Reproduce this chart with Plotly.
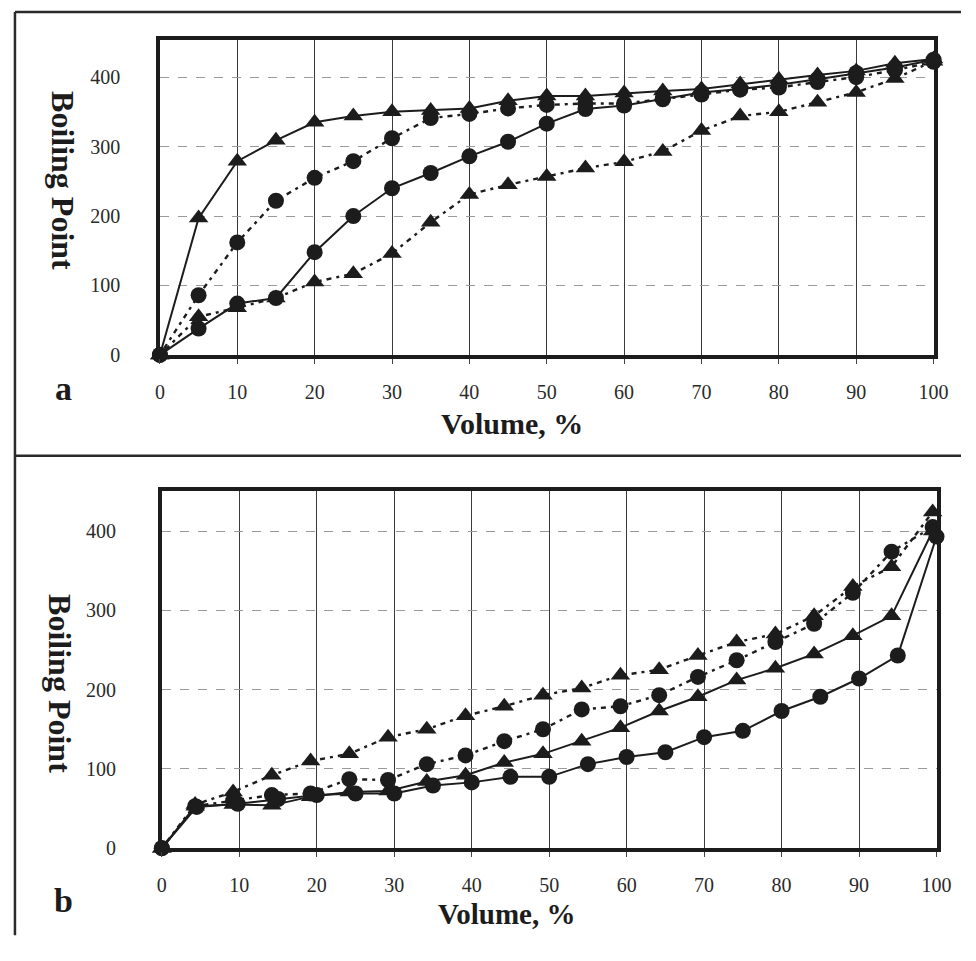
import plotly.graph_objects as go

# ---------------- Data ----------------
x_a = [0, 5, 10, 15, 20, 25, 30, 35, 40, 45, 50, 55, 60, 65, 70, 75, 80, 85, 90, 95, 100]

a_tri_solid = [0, 197, 279, 309, 335, 344, 350, 352, 355, 366, 373, 373, 377, 380, 383, 390, 397, 403, 409, 420, 426]
a_circ_solid = [0, 38, 74, 82, 148, 200, 240, 262, 286, 307, 333, 354, 359, 369, 378, 383, 389, 397, 406, 414, 425]
a_circ_dot = [0, 86, 162, 222, 255, 279, 312, 341, 347, 355, 360, 362, 362, 368, 375, 382, 385, 393, 400, 410, 422]
a_tri_dot = [0, 55, 68, 82, 105, 117, 146, 191, 231, 245, 257, 269, 278, 293, 323, 344, 350, 364, 378, 398, 423]

x_b = [0, 4.5, 9.8, 15, 20, 25, 30, 35, 40, 45, 50, 55, 60, 65, 70, 75, 80, 85, 90, 95, 100]
x_b_shift = [0, 4.3, 9.2, 14.2, 19.2, 24.2, 29.2, 34.2, 39.2, 44.2, 49.2, 54.2, 59.2, 64.2, 69.2, 74.2, 79.2, 84.2, 89.2, 94.2, 99.5]

b_circ_solid = [0, 52, 56, 62, 67, 69, 69, 79, 83, 90, 90, 106, 115, 121, 140, 148, 173, 191, 214, 243, 393]
b_tri_solid = [0, 53, 55, 54, 65, 71, 72, 84, 92, 108, 119, 135, 152, 173, 191, 212, 227, 245, 268, 293, 400]
b_tri_dot = [0, 55, 71, 92, 110, 119, 140, 150, 167, 179, 193, 202, 218, 225, 243, 260, 270, 293, 330, 355, 424]
b_circ_dot = [0, 53, 60, 67, 69, 87, 86, 106, 117, 135, 150, 175, 179, 193, 216, 237, 260, 283, 322, 374, 405]

x_ticks = [0, 10, 20, 30, 40, 50, 60, 70, 80, 90, 100]
y_ticks = [0, 100, 200, 300, 400]

# page body has an 8px margin; compensate so the figure lands where the reference is
OFF = 8
W, H = 976 - OFF, 961 - OFF
INK = "#1c1c1c"
SERIF = "Liberation Serif, Times New Roman, serif"
DOT = "3px,5px,5px,5px"


def px(x):
    return (x - OFF) / W


def py(y):
    return 1 - (y - OFF) / H


fig = go.Figure()


def add_series(x, y, sym, dash, xa, ya):
    fig.add_trace(go.Scatter(
        x=x, y=y, mode="lines+markers", xaxis=xa, yaxis=ya,
        line=dict(color=INK, width=2.4 if dash != "solid" else 2.0, dash=dash),
        marker=dict(symbol=sym, size=16 if sym == "circle" else 17, color=INK),
        cliponaxis=False, showlegend=False))


add_series(x_a, a_tri_dot, "triangle-up", DOT, "x", "y")
add_series(x_a, a_circ_dot, "circle", DOT, "x", "y")
add_series(x_a, a_circ_solid, "circle", "solid", "x", "y")
add_series(x_a, a_tri_solid, "triangle-up", "solid", "x", "y")

add_series(x_b_shift, b_tri_dot, "triangle-up", DOT, "x2", "y2")
add_series(x_b_shift, b_circ_dot, "circle", DOT, "x2", "y2")
add_series(x_b_shift, b_tri_solid, "triangle-up", "solid", "x2", "y2")
add_series(x_b, b_circ_solid, "circle", "solid", "x2", "y2")

tickfont = dict(family=SERIF, size=20, color="#2a2a2a")

xcommon = dict(range=[0, 100], tickvals=x_ticks, showgrid=True, gridcolor="#3a3a3a", gridwidth=1,
               showline=True, linecolor=INK, linewidth=3.5, mirror=True,
               ticks="outside", ticklen=5, tickcolor="#444", tickwidth=1,
               tickfont=tickfont, ticklabelstandoff=11, zeroline=False, fixedrange=True)
ycommon = dict(tickvals=y_ticks, showgrid=True, gridcolor="#9a9a9a", gridwidth=1, griddash="dash",
               showline=True, linecolor=INK, linewidth=3.5, mirror=True, ticks="",
               tickfont=tickfont, zeroline=False, fixedrange=True)

fig.update_layout(
    width=W, height=H, margin=dict(l=0, r=0, t=0, b=0),
    paper_bgcolor="white", plot_bgcolor="white",
    xaxis=dict(domain=[px(158), px(948)], anchor="y", **xcommon),
    yaxis=dict(domain=[py(359), py(40)], anchor="x", range=[0, 454], ticklabelstandoff=32, **ycommon),
    xaxis2=dict(domain=[px(160), px(951)], anchor="y2", **xcommon),
    yaxis2=dict(domain=[py(858), py(497)], anchor="x2", range=[0, 450], ticklabelstandoff=38, **ycommon),
)

ann = []
ann.append(dict(text="<b>Boiling Point</b>", x=px(59), y=py(183), textangle=90,
                font=dict(family=SERIF, size=32, color=INK)))
ann.append(dict(text="<b>Volume, %</b>", x=px(518), y=py(428),
                font=dict(family=SERIF, size=30, color=INK)))
ann.append(dict(text="<b>a</b>", x=px(60), y=py(393),
                font=dict(family=SERIF, size=34, color=INK)))
ann.append(dict(text="<b>Boiling Point</b>", x=px(56), y=py(691), textangle=90,
                font=dict(family=SERIF, size=32, color=INK)))
ann.append(dict(text="<b>Volume, %</b>", x=px(512), y=py(925),
                font=dict(family=SERIF, size=29, color=INK)))
ann.append(dict(text="<b>b</b>", x=px(60), y=py(911),
                font=dict(family=SERIF, size=34, color=INK)))
for a in ann:
    a.update(xref="paper", yref="paper", xanchor="center", yanchor="middle", showarrow=False)
fig.update_layout(annotations=ann)

shapes = [
    dict(type="line", x0=px(10), x1=1, y0=py(12), y1=py(12)),
    dict(type="line", x0=px(10), x1=1, y0=py(461), y1=py(461)),
    dict(type="line", x0=px(10), x1=px(10), y0=py(12), y1=py(946)),
]
for s in shapes:
    s.update(xref="paper", yref="paper", line=dict(color="#2a2a2a", width=2.5))
fig.update_layout(shapes=shapes)

fig.write_html("out.html")
